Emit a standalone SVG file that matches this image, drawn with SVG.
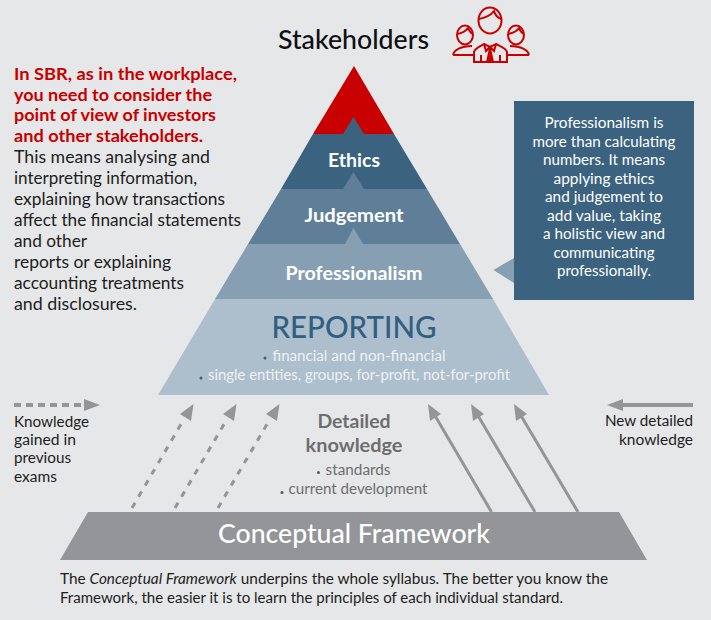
<svg xmlns="http://www.w3.org/2000/svg" width="711" height="620" viewBox="0 0 711 620">
<style>
text{font-family:"Lato","Noto Sans","Liberation Sans",sans-serif}
.b{font-size:17px;fill:#1d1d22}
.r{font-size:17px;font-weight:700;fill:#c80000}
.k{font-size:15.500px;fill:#1d1d22}
.w{font-size:15.500px;fill:#fff;text-anchor:middle}
.h{font-size:18.500px;font-weight:700;fill:#fff;text-anchor:middle}
.s{font-size:15.500px;fill:#eef2f5;text-anchor:middle}
.g{font-size:15.500px;fill:#6d6e71;text-anchor:middle}
.d{font-size:18.500px;font-weight:700;fill:#6d6e71;text-anchor:middle}
.ic{fill:none;stroke:#c80000;stroke-width:2}
.sol{stroke:#939598;stroke-width:3;fill:none}
.das{stroke:#939598;stroke-width:3;fill:none;stroke-dasharray:6 7}
.tip{fill:#939598}
</style>
<rect width="711" height="620" fill="#e6e7e8"/>
<g id="title">
<text x="278" y="49" font-size="26" font-weight="500" fill="#0f0f14" textLength="151" lengthAdjust="spacingAndGlyphs">Stakeholders</text>
<g id="icon">
<ellipse class="ic" cx="490" cy="20.500" rx="11.500" ry="13"/>
<path class="ic" d="M478.500 19C485 18 491 15 494 11C495 15 498 18 501.500 19"/>
<ellipse class="ic" cx="465" cy="35" rx="8" ry="9.500"/>
<path class="ic" d="M457 34C462 33 466 31 468 28C469 31 471 33 473 34"/>
<ellipse class="ic" cx="516" cy="35" rx="8" ry="9.500"/>
<path class="ic" d="M508 34C513 33 517 31 519 28C520 31 522 33 524 34"/>
<path class="ic" d="M453 55C454 50 461 46 472 46M453 55H474M529 55C528 50 521 46 510 46M529 55H507"/>
<path class="ic" d="M474 62V52C475 48 481 46 484 44L490 47L496 44C500 46 506 48 507 52V62ZM481 62V55M500 62V55"/>
<path d="M487.500 47.500H492.500L491.500 50.500L494 62H486L488.500 50.500Z" fill="#c80000"/>
<path class="ic" d="M484 44L486 51L490 47L494 51L496 44"/>
</g>
</g>
<g id="left-text">
<text class="r" x="14" y="80" textLength="223" lengthAdjust="spacingAndGlyphs">In SBR, as in the workplace,</text>
<text class="r" x="14" y="101" textLength="198" lengthAdjust="spacingAndGlyphs">you need to consider the</text>
<text class="r" x="14" y="121" textLength="202" lengthAdjust="spacingAndGlyphs">point of view of investors</text>
<text class="r" x="14" y="142" textLength="189" lengthAdjust="spacingAndGlyphs">and other stakeholders.</text>
<text class="b" x="14" y="163" textLength="196" lengthAdjust="spacingAndGlyphs">This means analysing and</text>
<text class="b" x="14" y="184" textLength="183" lengthAdjust="spacingAndGlyphs">interpreting information,</text>
<text class="b" x="14" y="205" textLength="211" lengthAdjust="spacingAndGlyphs">explaining how transactions</text>
<text class="b" x="14" y="226" textLength="227" lengthAdjust="spacingAndGlyphs">affect the financial statements</text>
<text class="b" x="14" y="247" textLength="73" lengthAdjust="spacingAndGlyphs">and other</text>
<text class="b" x="14" y="268" textLength="157" lengthAdjust="spacingAndGlyphs">reports or explaining</text>
<text class="b" x="14" y="289" textLength="170" lengthAdjust="spacingAndGlyphs">accounting treatments</text>
<text class="b" x="14" y="310" textLength="123" lengthAdjust="spacingAndGlyphs">and disclosures.</text>
</g>
<g id="pyramid-top"><polygon points="354,66 394,134 313,134" fill="#c80000"/></g>
<g id="ethics">
<polygon points="313,134 343,134 353.500,117 364,134 394,134 427,189 281,189" fill="#3b627f"/>
<text class="h" x="354" y="167" textLength="52" lengthAdjust="spacingAndGlyphs">Ethics</text>
</g>
<g id="judgement">
<polygon points="281,189 343,189 353.500,172 364,189 427,189 460,244 248,244" fill="#5f7f98"/>
<text class="h" x="354" y="222" textLength="99" lengthAdjust="spacingAndGlyphs">Judgement</text>
</g>
<g id="professionalism">
<polygon points="248,244 345,244 353.500,228 363,244 460,244 493,299 215,299" fill="#869fb3"/>
<text class="h" x="354" y="280" textLength="137" lengthAdjust="spacingAndGlyphs">Professionalism</text>
</g>
<g id="reporting">
<polygon points="215,299 493,299 549,395 158,395" fill="#adbecc"/>
<text x="354" y="338" text-anchor="middle" font-size="30" font-weight="500" fill="#315f82" textLength="165" lengthAdjust="spacingAndGlyphs">REPORTING</text>
<circle cx="265" cy="358" r="1.500" fill="#3b627f"/>
<text class="s" x="359" y="361" textLength="173" lengthAdjust="spacingAndGlyphs">financial and non-financial</text>
<circle cx="201" cy="378" r="1.500" fill="#3b627f"/>
<text class="s" x="359" y="380" textLength="302" lengthAdjust="spacingAndGlyphs">single entities, groups, for-profit, not-for-profit</text>
</g>
<g id="callout">
<polygon points="493.500,270 514,258 514,283" fill="#869fb3"/>
<rect x="514" y="101" width="180" height="199" fill="#3b627f"/>
<text class="w" x="604" y="128" textLength="119" lengthAdjust="spacingAndGlyphs">Professionalism is</text>
<text class="w" x="604" y="147" textLength="143" lengthAdjust="spacingAndGlyphs">more than calculating</text>
<text class="w" x="604" y="165" textLength="122" lengthAdjust="spacingAndGlyphs">numbers. It means</text>
<text class="w" x="604" y="184" textLength="101" lengthAdjust="spacingAndGlyphs">applying ethics</text>
<text class="w" x="604" y="202" textLength="118" lengthAdjust="spacingAndGlyphs">and judgement to</text>
<text class="w" x="604" y="221" textLength="114" lengthAdjust="spacingAndGlyphs">add value, taking</text>
<text class="w" x="604" y="239" textLength="122" lengthAdjust="spacingAndGlyphs">a holistic view and</text>
<text class="w" x="604" y="258" textLength="101" lengthAdjust="spacingAndGlyphs">communicating</text>
<text class="w" x="604" y="276" textLength="94" lengthAdjust="spacingAndGlyphs">professionally.</text>
</g>
<g id="detailed-knowledge">
<text class="d" x="354" y="428" textLength="73" lengthAdjust="spacingAndGlyphs">Detailed</text>
<text class="d" x="354" y="452" textLength="97" lengthAdjust="spacingAndGlyphs">knowledge</text>
<circle cx="318.500" cy="472.500" r="1.500" fill="#58595b"/>
<text class="g" x="358" y="475" textLength="65" lengthAdjust="spacingAndGlyphs">standards</text>
<circle cx="282" cy="492.500" r="1.500" fill="#58595b"/>
<text class="g" x="358" y="494" textLength="139" lengthAdjust="spacingAndGlyphs">current development</text>
</g>
<g id="conceptual-framework">
<polygon points="88,512 619,512 647,560 60,560" fill="#939598"/>
<text x="354" y="543" text-anchor="middle" font-size="26" font-weight="500" fill="#fff" textLength="272" lengthAdjust="spacingAndGlyphs">Conceptual Framework</text>
</g>
<g id="connectors">
<path class="das" d="M132 508L184 419"/><polygon class="tip" points="193.500,404 191,421 180,414"/>
<path class="das" d="M175 508L227 419"/><polygon class="tip" points="236.500,404 234,421 223,414"/>
<path class="das" d="M218 508L270 419"/><polygon class="tip" points="279.500,404 277,421 266,414"/>
<path class="sol" d="M491.500 512L434 414"/><polygon class="tip" points="428,404 441,414 430,421"/>
<path class="sol" d="M535 512L477 414"/><polygon class="tip" points="471,404 484,414 473,421"/>
<path class="sol" d="M578 512L520 414"/><polygon class="tip" points="514,404 527,414 516,421"/>
<path d="M14 405H84" stroke="#939598" stroke-width="4" fill="none" stroke-dasharray="7 5"/><polygon class="tip" points="100,405 84,399 84,411"/>
<path d="M620 405H693" stroke="#939598" stroke-width="4" fill="none"/><polygon class="tip" points="607,405 623,399 623,411"/>
</g>
<g id="legend-left">
<text class="k" x="14" y="427" textLength="75" lengthAdjust="spacingAndGlyphs">Knowledge</text>
<text class="k" x="14" y="445" textLength="62" lengthAdjust="spacingAndGlyphs">gained in</text>
<text class="k" x="14" y="463" textLength="57" lengthAdjust="spacingAndGlyphs">previous</text>
<text class="k" x="14" y="482" textLength="43" lengthAdjust="spacingAndGlyphs">exams</text>
</g>
<g id="legend-right">
<text class="k" x="605" y="426" textLength="88" lengthAdjust="spacingAndGlyphs">New detailed</text>
<text class="k" x="619" y="445" textLength="74" lengthAdjust="spacingAndGlyphs">knowledge</text>
</g>
<g id="footer">
<text class="k" x="60" y="584" textLength="548" lengthAdjust="spacingAndGlyphs">The <tspan font-style="italic">Conceptual Framework</tspan> underpins the whole syllabus. The better you know the</text>
<text class="k" x="60" y="603" textLength="503" lengthAdjust="spacingAndGlyphs">Framework, the easier it is to learn the principles of each individual standard.</text>
</g>
</svg>
